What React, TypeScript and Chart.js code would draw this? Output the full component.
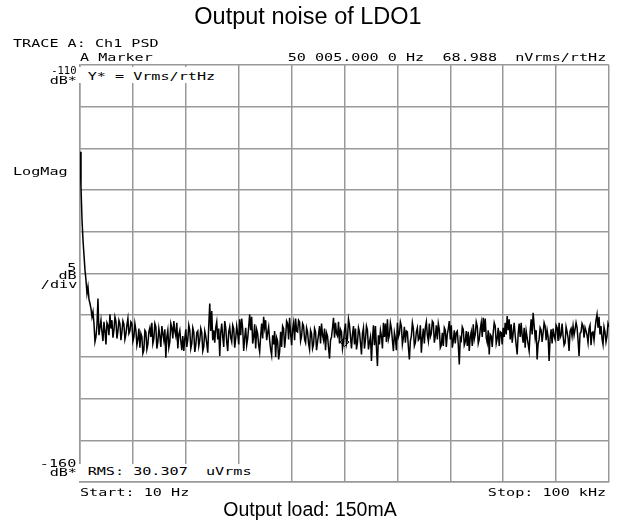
import React, { useEffect, useRef } from "react";
import { Chart, registerables } from "chart.js";

Chart.register(...registerables);

// ---- data ----
const START_HZ = 10;
const STOP_HZ = 100000;
const Y_MIN_DB = -160;
const Y_MAX_DB = -110;
const DB_PER_DIV = 5;
const X_DIVS = 10;

// PSD trace (dB re 1 Vrms/rtHz), evenly spaced bins from START_HZ to STOP_HZ
const PSD_DB = [
  -120.4, -124.6, -128.5, -131.0, -132.8, -134.6, -135.8, -137.4, -136.6, -138.1,
  -138.6, -139.2, -140.2, -139.6, -141.0, -143.2, -142.6, -141.2, -138.0, -142.4,
  -141.5, -140.6, -142.0, -143.1, -140.8, -141.9, -143.5, -140.9, -141.2, -142.4,
  -139.9, -141.6, -140.6, -142.7, -141.8, -140.2, -140.7, -142.8, -141.9, -140.6,
  -141.0, -143.0, -142.0, -140.7, -141.1, -142.9, -142.3, -141.2, -140.4, -142.2,
  -141.9, -140.8, -141.0, -143.1, -142.6, -141.0, -141.8, -143.6, -142.9, -141.6,
  -143.9, -142.2, -142.6, -144.6, -144.2, -141.8, -142.0, -144.1, -143.5, -142.0,
  -141.5, -142.6, -140.9, -143.4, -142.8, -141.0, -141.4, -144.0, -143.2, -141.6,
  -142.5, -143.8, -141.3, -142.2, -143.0, -141.7, -145.1, -142.6, -141.8, -143.9,
  -143.2, -141.0, -141.5, -142.8, -140.7, -141.9, -142.5, -140.9, -144.0, -142.3,
  -141.8, -143.1, -144.2, -142.5, -144.3, -142.8, -141.7, -143.8, -142.9, -141.2,
  -141.8, -144.0, -143.4, -141.5, -142.0, -144.4, -143.6, -142.1, -141.9, -143.7,
  -143.0, -141.6, -142.1, -144.3, -143.8, -141.9, -142.5, -143.4, -144.5, -141.2,
  -138.6, -141.9, -139.5, -143.0, -141.8, -143.3, -141.5, -140.8, -142.9, -141.6,
  -144.9, -142.1, -141.0, -142.6, -143.8, -140.7, -141.5, -143.2, -144.3, -142.0,
  -141.4, -142.7, -143.2, -141.2, -141.6, -143.9, -142.8, -141.3, -142.2, -143.5,
  -140.5, -142.4, -140.4, -141.6, -144.3, -142.7, -141.5, -143.6, -142.8, -141.4,
  -139.9, -141.8, -140.2, -143.4, -142.6, -141.1, -144.0, -141.7, -142.2, -143.6,
  -144.4, -142.5, -141.0, -142.8, -140.2, -141.5, -140.6, -143.0, -142.1, -141.4,
  -143.0, -144.1, -144.8, -142.4, -143.5, -141.9, -145.0, -142.7, -143.1, -145.3,
  -144.4, -142.0, -143.8, -141.3, -141.6, -143.9, -142.6, -140.7, -141.0, -142.9,
  -140.3, -142.2, -143.6, -141.7, -140.9, -143.0, -140.4, -141.9, -142.0, -140.6,
  -140.8, -143.1, -142.5, -141.0, -141.3, -142.9, -143.3, -141.5, -142.0, -143.4,
  -144.1, -141.8, -142.2, -144.0, -143.5, -141.6, -142.0, -144.2, -143.2, -142.3,
  -141.3, -143.4, -141.0, -142.4, -143.0, -141.6, -144.2, -142.1, -142.5, -143.9,
  -145.2, -143.0, -142.6, -141.5, -140.3, -142.7, -140.9, -142.2, -142.5, -140.8,
  -143.4, -141.7, -142.0, -144.0, -143.2, -141.8, -141.0, -143.4, -142.8, -140.5,
  -141.2, -142.6, -144.0, -142.3, -141.3, -143.5, -141.6, -144.1, -143.3, -141.5,
  -142.0, -143.3, -144.7, -142.2, -141.5, -144.0, -142.9, -141.3, -141.8, -144.1,
  -143.2, -142.6, -145.5, -142.9, -141.2, -143.6, -141.3, -143.9, -146.1, -142.4,
  -143.5, -141.8, -142.5, -144.0, -140.9, -142.6, -141.0, -143.2, -140.5, -142.9,
  -142.4, -140.9, -141.6, -143.0, -144.3, -142.1, -142.8, -144.2, -140.9, -142.6,
  -142.2, -140.8, -141.3, -143.5, -142.7, -141.4, -143.3, -141.9, -142.0, -143.8,
  -145.3, -143.1, -142.5, -140.9, -141.6, -143.7, -143.3, -142.0, -141.5, -143.0,
  -142.8, -141.2, -144.5, -142.7, -141.6, -143.4, -141.5, -140.8, -142.4, -143.1,
  -141.0, -142.6, -142.2, -140.7, -140.9, -143.3, -142.5, -141.2, -142.9, -141.0,
  -141.7, -143.9, -143.6, -142.1, -143.7, -141.5, -141.8, -143.8, -142.3, -141.6,
  -140.7, -142.9, -141.2, -143.9, -143.1, -141.8, -143.4, -142.1, -141.9, -143.5,
  -145.9, -142.7, -143.0, -141.4, -141.7, -143.6, -143.2, -141.9, -143.7, -142.0,
  -144.3, -142.6, -142.0, -143.7, -141.1, -142.9, -142.3, -140.8, -141.3, -143.4,
  -142.9, -141.7, -140.9, -142.6, -140.3, -142.0, -140.4, -142.7, -143.3, -141.8,
  -144.7, -142.3, -142.5, -143.8, -142.1, -140.9, -141.3, -143.4, -142.8, -141.5,
  -143.7, -142.0, -142.1, -143.5, -141.5, -142.6, -140.9, -142.3, -140.1, -141.8,
  -140.5, -142.9, -141.1, -143.3, -142.1, -140.9, -142.4, -143.6, -144.7, -142.2,
  -141.0, -142.6, -140.9, -142.4, -143.3, -141.5, -143.9, -141.9, -142.7, -143.5,
  -144.3, -142.0, -140.5, -142.3, -139.7, -141.2, -142.7, -141.8, -145.3, -143.4,
  -142.9, -141.5, -141.8, -143.2, -142.1, -140.9, -141.3, -143.0, -141.8, -142.6,
  -145.5, -142.8, -141.7, -143.4, -141.6, -142.5, -142.9, -141.2, -141.5, -143.1,
  -140.9, -142.7, -142.4, -141.0, -142.5, -143.6, -143.3, -141.4, -142.0, -142.7,
  -144.3, -141.9, -141.6, -142.5, -141.3, -142.4, -141.7, -140.9, -141.5, -143.0,
  -144.9, -142.2, -142.0, -141.0, -141.3, -142.7, -141.5, -141.9, -142.4, -143.3,
  -141.6, -141.2, -143.6, -142.1, -142.0, -143.0, -141.7, -140.6, -139.9, -141.5,
  -140.2, -142.3, -141.3, -142.8, -143.5, -141.4, -142.0, -143.2, -142.5, -141.0,
  -141.4,
];

const MARKER_HZ = [50005];
const MARKER_DB = [-143.22];

const TITLE = "Output noise of LDO1";
const SUBTITLE = "Output load: 150mA";

// ---- layout ----
const W = 624;
const H = 532;
const MONO = '"DejaVu Sans Mono", "Liberation Mono", monospace';
const SANS = '"Liberation Sans", Arial, sans-serif';
const MONO_SIZE = 10.5;
const MONO_SX = 1.44;

type MonoProps = {
  x: number;
  base: number;
  text: string;
  align?: "left" | "right";
  bg?: boolean;
  pad?: [number, number, number, number];
  sx?: number;
};

function Mono({ x, base, text, align = "left", bg = false, pad = [0, 0, 0, 0], sx = MONO_SX }: MonoProps) {
  const [pt, pr, pb, pl] = pad;
  const top = base - 0.846 * MONO_SIZE - pt;
  const style: React.CSSProperties = {
    position: "absolute",
    top,
    fontFamily: MONO,
    fontSize: MONO_SIZE,
    lineHeight: "1",
    whiteSpace: "pre",
    color: "#000",
    transform: `scaleX(${sx})`,
    transformOrigin: align === "left" ? "left top" : "right top",
    background: bg ? "#fff" : "transparent",
    padding: `${pt}px ${pr}px ${pb}px ${pl}px`,
  };
  if (align === "left") style.left = x - pl * sx;
  else style.right = W - x - pr * sx;
  return <span style={style}>{text}</span>;
}

function Sans({ cx, base, size, text }: { cx: number; base: number; size: number; text: string }) {
  return (
    <span
      style={{
        position: "absolute",
        left: cx,
        top: base - 0.8465 * size,
        transform: "translateX(-50%)",
        fontFamily: SANS,
        fontSize: size,
        lineHeight: "1",
        whiteSpace: "pre",
        color: "#000",
      }}
    >
      {text}
    </span>
  );
}

export default function App() {
  const ref = useRef<HTMLCanvasElement | null>(null);

  useEffect(() => {
    document.body.style.margin = "0";
    const binHz = (STOP_HZ - START_HZ) / (PSD_DB.length - 1);
    const trace = PSD_DB.map((v, i) => ({ x: START_HZ + i * binHz, y: v }));
    const marker = MARKER_HZ.map((f, i) => ({ x: f, y: MARKER_DB[i] }));
    const gridColor = "#999999";

    const chart = new Chart(ref.current as HTMLCanvasElement, {
      type: "line",
      data: {
        datasets: [
          {
            data: trace,
            borderColor: "#000",
            borderWidth: 1.5,
            pointRadius: 0,
            tension: 0,
            fill: false,
          },
          {
            data: marker,
            showLine: false,
            pointStyle: "rectRot",
            pointRadius: 4.5,
            pointBorderColor: "#000",
            pointBackgroundColor: "rgba(0,0,0,0)",
            pointBorderWidth: 1,
          },
        ],
      },
      options: {
        responsive: false,
        animation: false,
        devicePixelRatio: 1,
        parsing: false,
        layout: { padding: { left: 80, top: 65, right: W - 609, bottom: H - 482 } },
        plugins: { legend: { display: false }, tooltip: { enabled: false }, title: { display: false } },
        scales: {
          x: {
            type: "linear",
            min: START_HZ,
            max: STOP_HZ,
            afterBuildTicks: (scale: any) => {
              scale.ticks = Array.from({ length: X_DIVS + 1 }, (_, k) => ({
                value: START_HZ + (k * (STOP_HZ - START_HZ)) / X_DIVS,
              }));
            },
            ticks: { display: false },
            grid: { color: gridColor, lineWidth: 1.5, drawTicks: false },
            border: { color: gridColor, width: 1.5 },
          },
          y: {
            type: "linear",
            min: Y_MIN_DB,
            max: Y_MAX_DB,
            ticks: { display: false, stepSize: DB_PER_DIV },
            grid: { color: gridColor, lineWidth: 1.5, drawTicks: false },
            border: { color: gridColor, width: 1.5 },
          },
        },
      },
    });
    return () => chart.destroy();
  }, []);

  return (
    <div style={{ position: "absolute", left: 0, top: 0, width: W, height: H, background: "#fff", overflow: "hidden" }}>
      <canvas ref={ref} width={W} height={H} style={{ position: "absolute", left: 0, top: 0 }} />
      <Sans cx={308} base={25} size={23.5} text={TITLE} />
      <Sans cx={310} base={516.7} size={19.5} text={SUBTITLE} />

      <Mono x={13} base={46.7} text="TRACE A: Ch1 PSD" />
      <Mono x={80} base={61} text="A Marker" />
      <Mono x={606} base={61} align="right" text="50 005.000 0 Hz  68.988  nVrms/rtHz" />

      <Mono x={76.5} base={74} align="right" text="-110" sx={1.0} />
      <Mono x={76.5} base={84} align="right" text="dB*" />
      <Mono x={88} base={80} text="Y* = Vrms/rtHz" bg pad={[4, 2, 1, 6]} />

      <Mono x={13} base={175} text="LogMag" />
      <Mono x={76.5} base={271} align="right" text="5" />
      <Mono x={76.5} base={279} align="right" text="dB" />
      <Mono x={77} base={287.5} align="right" text="/div" />

      <Mono x={76.5} base={467} align="right" text="-160" />
      <Mono x={76.5} base={476} align="right" text="dB*" />
      <Mono x={88} base={475} text="RMS: 30.307  uVrms" bg pad={[2, 2, 4, 6]} />

      <Mono x={80} base={496} text="Start: 10 Hz" />
      <Mono x={606} base={496} align="right" text="Stop: 100 kHz" />
    </div>
  );
}
